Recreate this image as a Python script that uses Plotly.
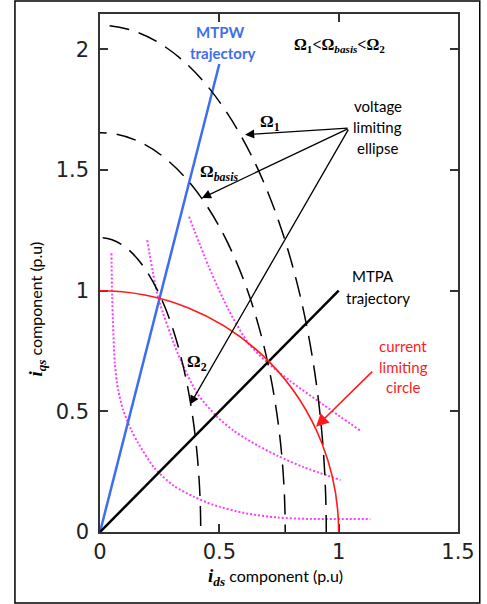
import plotly.graph_objects as go

# Operating trajectories (p.u.)
mtpw_ids = [0.0, 0.5]
mtpw_iqs = [0.0, 1.94]
mtpa_ids = [0.0, 1.0]
mtpa_iqs = [0.0, 1.0]

# Current limiting circle radius (p.u.)
current_limit = 1.0

# Voltage limiting ellipses: semi-axes along ids and iqs
ellipse_names = ["Ω1", "Ωbasis", "Ω2"]
ellipse_ids_axis = [0.948, 0.776, 0.422]
ellipse_iqs_axis = [2.10, 1.655, 1.22]

# Constant torque curves
torque_a_ids = [0.048, 0.051, 0.062, 0.076, 0.097, 0.131, 0.159, 0.228, 0.311, 0.394,
                0.470, 0.608, 0.746, 0.884, 1.133]
torque_a_iqs = [1.155, 0.975, 0.699, 0.588, 0.506, 0.423, 0.370, 0.265, 0.190, 0.146,
                0.114, 0.078, 0.060, 0.054, 0.054]
torque_b_ids = [0.198, 0.243, 0.328, 0.407, 0.490, 0.560, 0.608, 0.663, 0.746, 0.850, 1.008]
torque_b_iqs = [1.210, 0.975, 0.735, 0.575, 0.478, 0.420, 0.389, 0.357, 0.315, 0.270, 0.215]
torque_c_ids = [0.373, 0.456, 0.539, 0.622, 0.697, 0.801, 0.939, 1.091]
torque_c_iqs = [1.307, 1.099, 0.920, 0.782, 0.706, 0.623, 0.525, 0.420]

x_ticks = [0, 0.5, 1, 1.5]
x_tick_text = ["0", "0.5", "1", "1.5"]
y_ticks = [0, 0.5, 1, 1.5, 2]
y_tick_text = ["0", "0.5", "1", "1.5", "2"]

BLUE = "#3d6ef0"
MAGENTA = "#ff3cff"
RED = "#ff1a1a"
SANS = "Lato"
SERIF = "Liberation Serif"

fig = go.Figure()

for xs, ys in [(torque_a_ids, torque_a_iqs), (torque_b_ids, torque_b_iqs),
               (torque_c_ids, torque_c_iqs)]:
    fig.add_trace(go.Scatter(x=xs, y=ys, mode="lines",
                             line=dict(color=MAGENTA, width=2, dash="2px,2px",
                                       shape="spline", smoothing=0.7),
                             hoverinfo="skip", showlegend=False))

fig.add_trace(go.Scatter(x=mtpw_ids, y=mtpw_iqs, mode="lines",
                         line=dict(color=BLUE, width=2.5), showlegend=False))
fig.add_trace(go.Scatter(x=mtpa_ids, y=mtpa_iqs, mode="lines",
                         line=dict(color="black", width=2.5), showlegend=False))

# Voltage ellipses centred on the origin (clipped to the first quadrant)
for a, b in zip(ellipse_ids_axis, ellipse_iqs_axis):
    fig.add_shape(type="circle", xref="x", yref="y", x0=-a, x1=a, y0=-b, y1=b,
                  line=dict(color="black", width=1.5, dash="20px,10px"))

# Current limiting circle
fig.add_shape(type="circle", xref="x", yref="y",
              x0=-current_limit, x1=current_limit, y0=-current_limit, y1=current_limit,
              line=dict(color=RED, width=1.6))

# Outer frame around the figure
fig.add_shape(type="rect", xref="paper", yref="paper",
              x0=-0.2376, x1=1.0608, y0=-0.137, y1=1.0251,
              line=dict(color="black", width=1.5))

# Pointers from the "voltage limiting ellipse" label
tail = (1.044, 1.674)
heads = [(0.608, 1.647), (0.427, 1.384), (0.377, 0.528)]
for hx, hy in heads:
    fig.add_annotation(x=hx, y=hy, ax=tail[0], ay=tail[1], axref="x", ayref="y",
                       xref="x", yref="y", text="", showarrow=True,
                       arrowhead=2, arrowsize=1.4, arrowwidth=1.3, arrowcolor="black")

fig.add_annotation(x=0.905, y=0.436, ax=1.147, ay=0.671, axref="x", ayref="y",
                   xref="x", yref="y", text="", showarrow=True,
                   arrowhead=2, arrowsize=1.6, arrowwidth=1.6, arrowcolor=RED)


def label(x, y, text, color="black", size=15, family=SANS, bold=False):
    if bold:
        text = "<b>" + text + "</b>"
    fig.add_annotation(x=x, y=y, xref="x", yref="y", text=text, showarrow=False,
                       font=dict(family=family, size=size, color=color),
                       xanchor="center", yanchor="middle")


label(0.504, 2.073, "MTPW", color=BLUE, bold=True)
label(0.514, 1.985, "trajectory", color=BLUE, bold=True)
label(1.005, 2.018, "Ω<sub>1</sub>&lt;Ω<sub><i>basis</i></sub>&lt;Ω<sub>2</sub>",
      family=SERIF, size=16, bold=True)
label(1.164, 1.765, "voltage")
label(1.164, 1.680, "limiting")
label(1.164, 1.590, "ellipse")
label(1.143, 1.061, "MTPA")
label(1.164, 0.968, "trajectory")
label(1.271, 0.772, "current", color=RED)
label(1.271, 0.685, "limiting", color=RED)
label(1.271, 0.600, "circle", color=RED)
label(0.712, 1.694, "Ω<sub>1</sub>", family=SERIF, size=17, bold=True)
label(0.497, 1.489, "Ω<sub><i>basis</i></sub>", family=SERIF, size=17, bold=True)
label(0.407, 0.699, "Ω<sub>2</sub>", family=SERIF, size=17, bold=True)

# Axis titles
sym_style = "font-family:'Liberation Serif';font-size:19px"
fig.add_annotation(x=0.490, y=-0.0863, xref="paper", yref="paper", showarrow=False,
                   text=f"<span style=\"{sym_style}\"><b><i>i</i></b><sub><b><i>ds</i></b></sub></span>"
                        " component (p.u)",
                   font=dict(family=SANS, size=16, color="black"),
                   xanchor="center", yanchor="middle")
fig.add_annotation(x=-0.175, y=0.43, xref="paper", yref="paper", showarrow=False,
                   text=f"<span style=\"{sym_style}\"><b><i>i</i></b><sub><b><i>qs</i></b></sub></span>"
                        " component (p.u)",
                   font=dict(family=SANS, size=16, color="black"), textangle=-90,
                   xanchor="center", yanchor="middle")

axis_common = dict(showgrid=False, zeroline=False, showline=True, linecolor="#333333",
                   linewidth=1.5, mirror="ticks", ticks="inside", ticklen=8,
                   tickwidth=1.5, tickcolor="#333333",
                   tickfont=dict(family="DejaVu Sans", size=21, color="#222222"))

fig.update_layout(
    width=487, height=604,
    margin=dict(l=100, r=25, t=14, b=72),
    paper_bgcolor="white", plot_bgcolor="white",
    showlegend=False,
    xaxis=dict(range=[0, 1.5], tickvals=x_ticks, ticktext=x_tick_text,
               ticklabelstandoff=0, **axis_common),
    yaxis=dict(range=[0, 2.147], tickvals=y_ticks, ticktext=y_tick_text,
               ticklabelstandoff=5, **axis_common),
)

fig.write_html("out.html")
